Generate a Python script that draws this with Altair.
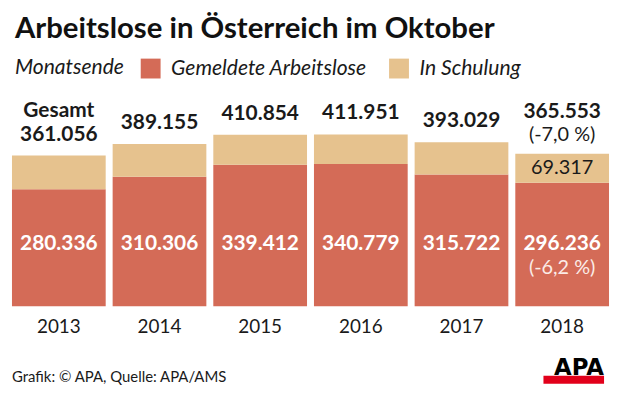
import altair as alt
import pandas as pd

# ---- data ----
years = ["2013", "2014", "2015", "2016", "2017", "2018"]
gesamt = [361056, 389155, 410854, 411951, 393029, 365553]
gemeldet = [280336, 310306, 339412, 340779, 315722, 296236]
series = ["Gemeldete Arbeitslose", "In Schulung"]
colors = ["#D46B57", "#E6C28E"]

title_text = "Arbeitslose in Österreich im Oktober"
legend_title = "Monatsende"
total_caption = "Gesamt"
source_text = "Grafik: © APA, Quelle: APA/AMS"
logo_text = "APA"

FONT = "Lato"
INK = "#1a1a1a"


def de(n):
    return f"{n:,}".replace(",", ".")


def pct(a, b):
    return "(" + f"{(a / b - 1) * 100:.1f}".replace(".", ",") + " %)"


schulung = [g - r for g, r in zip(gesamt, gemeldet)]

long_df = pd.DataFrame({
    "Jahr": years * 2,
    "Art": [series[0]] * len(years) + [series[1]] * len(years),
    "Wert": gemeldet + schulung,
    "Rang": [0] * len(years) + [1] * len(years),
})

wide_df = pd.DataFrame({
    "Jahr": years,
    "Gesamt": gesamt,
    "Gemeldet": gemeldet,
    "GesamtText": [de(v) for v in gesamt],
    "GemeldetText": [de(v) for v in gemeldet],
    "SchulungText": [de(v) for v in schulung],
    "GesamtPct": [""] + [pct(gesamt[i], gesamt[i - 1]) for i in range(1, len(years))],
    "GemeldetPct": [""] + [pct(gemeldet[i], gemeldet[i - 1]) for i in range(1, len(years))],
})

last = years[-1]
first = years[0]

x_enc = alt.X(
    "Jahr:N",
    sort=years,
    scale=alt.Scale(paddingInner=0.069, paddingOuter=0),
    axis=alt.Axis(
        title=None, domain=False, ticks=False, labelAngle=0,
        labelFont=FONT, labelFontSize=19, labelColor=INK,
        labelBaseline="alphabetic", labelPadding=26,
    ),
)
y_scale = alt.Scale(domain=[0, 519000])

bars = alt.Chart(long_df).mark_bar().encode(
    x=x_enc,
    y=alt.Y("Wert:Q", stack="zero", scale=y_scale, axis=None),
    color=alt.Color(
        "Art:N",
        scale=alt.Scale(domain=series, range=colors),
        legend=alt.Legend(
            title=legend_title, orient="none", legendX=3, legendY=-32,
            direction="horizontal", titleOrient="left",
            symbolType="square", symbolSize=400, symbolStrokeWidth=0, symbolOpacity=1,
            labelFont=FONT, labelFontStyle="italic", labelFontSize=21.2, labelColor=INK,
            labelOffset=10, columnPadding=21, labelLimit=400,
            titleFont=FONT, titleFontStyle="italic", titleFontWeight="normal",
            titleFontSize=21.2, titleColor=INK, titlePadding=16, titleLimit=300,
            padding=0,
        ),
    ),
    order=alt.Order("Rang:Q"),
)

base = alt.Chart(wide_df).encode(x=alt.X("Jahr:N", sort=years))
ytot = alt.Y("Gesamt:Q", scale=y_scale, axis=None)

totals = base.transform_filter(f"datum.Jahr != '{last}'").mark_text(
    font=FONT, fontSize=21, fontWeight="bold", color=INK, baseline="alphabetic", dy=-15
).encode(y=ytot, text="GesamtText:N")

total_last = base.transform_filter(f"datum.Jahr == '{last}'").mark_text(
    font=FONT, fontSize=21, fontWeight="bold", color=INK, baseline="alphabetic", dy=-36
).encode(y=ytot, text="GesamtText:N")

total_last_pct = base.transform_filter(f"datum.Jahr == '{last}'").mark_text(
    font=FONT, fontSize=20, color=INK, baseline="alphabetic", dy=-13
).encode(y=ytot, text="GesamtPct:N")

caption = base.transform_filter(f"datum.Jahr == '{first}'").mark_text(
    font=FONT, fontSize=21, fontWeight="bold", color=INK, baseline="alphabetic", dy=-39,
    text=total_caption,
).encode(y=ytot)

reg_labels = base.mark_text(
    font=FONT, fontSize=21, fontWeight="bold", color="white", baseline="alphabetic"
).encode(y=alt.value(161), text="GemeldetText:N")

reg_last_pct = base.transform_filter(f"datum.Jahr == '{last}'").mark_text(
    font=FONT, fontSize=20, color="#FBECE7", baseline="alphabetic"
).encode(y=alt.value(186), text="GemeldetPct:N")

schul_last = base.transform_filter(f"datum.Jahr == '{last}'").transform_calculate(
    Mitte="(datum.Gesamt + datum.Gemeldet) / 2"
).mark_text(
    font=FONT, fontSize=20, color=INK, baseline="middle"
).encode(y=alt.Y("Mitte:Q", scale=y_scale, axis=None), text="SchulungText:N")

src = alt.Chart(pd.DataFrame({"t": [source_text]})).mark_text(
    font=FONT, fontSize=15, color=INK, align="left", baseline="alphabetic"
).encode(x=alt.value(0), y=alt.value(294), text="t:N")

logo = alt.Chart(pd.DataFrame({"t": [logo_text]})).mark_text(
    font="DejaVu Sans", fontSize=23, fontWeight="bold", color="#000000",
    align="right", baseline="alphabetic",
).encode(x=alt.value(596), y=alt.value(287), text="t:N")

logo_bar = alt.Chart(pd.DataFrame({"t": [logo_text]})).mark_rect(color="#E2001A").encode(
    x=alt.value(535), x2=alt.value(596), y=alt.value(288), y2=alt.value(296)
)

chart = alt.layer(
    bars, totals, total_last, total_last_pct, caption, reg_labels, reg_last_pct,
    schul_last, src, logo, logo_bar,
).properties(
    width=601,
    height=218,
    padding={"left": 4, "top": 81, "right": 3, "bottom": 80},
    autosize=alt.AutoSizeParams(type="none"),
    background="white",
    title=alt.Title(
        text=title_text, anchor="start", frame="group", offset=-9,
        baseline="alphabetic", font=FONT, fontSize=29.5, fontWeight="bold",
        color="#111111", dx=3,
    ),
).configure_view(stroke=None)

chart.save("out.html", embed_options={"renderer": "svg", "actions": False})
